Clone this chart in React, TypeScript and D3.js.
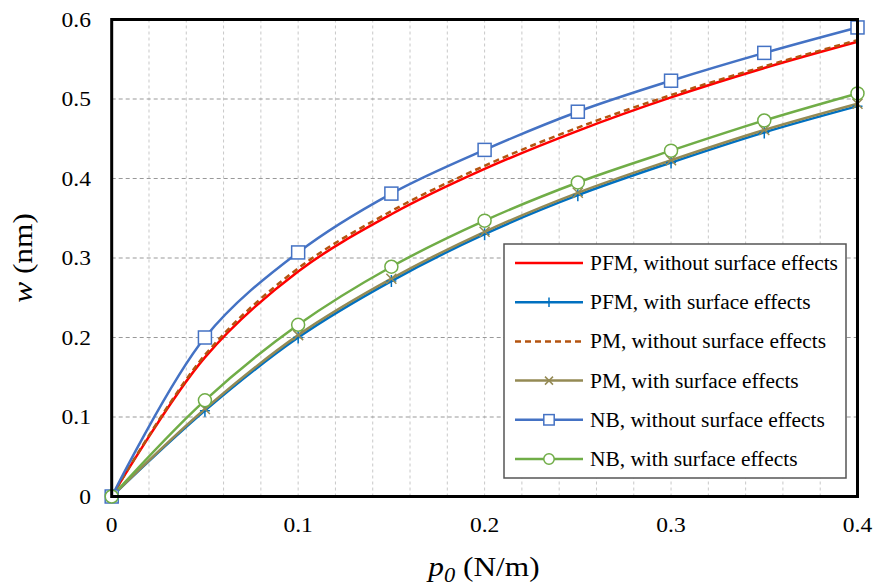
import React from "react";
import * as d3 from "d3";

const xs = [0, 0.05, 0.1, 0.15, 0.2, 0.25, 0.3, 0.35, 0.4];
const pfmWithout = [0, 0.175, 0.283, 0.355, 0.412, 0.46, 0.502, 0.539, 0.572];
const pfmWith = [0, 0.108, 0.2, 0.271, 0.33, 0.379, 0.42, 0.458, 0.491];
const pmWithout = [0, 0.178, 0.287, 0.359, 0.416, 0.464, 0.505, 0.541, 0.574];
const pmWith = [0, 0.11, 0.203, 0.274, 0.333, 0.382, 0.423, 0.461, 0.494];
const nbWithout = [0, 0.2, 0.307, 0.381, 0.436, 0.484, 0.523, 0.558, 0.59];
const nbWith = [0, 0.121, 0.216, 0.289, 0.347, 0.395, 0.435, 0.473, 0.507];

const xTicks = [0, 0.1, 0.2, 0.3, 0.4];
const yTicks = [0, 0.1, 0.2, 0.3, 0.4, 0.5, 0.6];
const xGrid = d3.range(0, 21).map((i) => i * 0.02);

type Marker = "none" | "plus" | "cross" | "square" | "circle";
const series: { name: string; values: number[]; color: string; marker: Marker; dash?: string }[] = [
  { name: "PFM, without surface effects", values: pfmWithout, color: "#FF0000", marker: "none" },
  { name: "PFM, with surface effects", values: pfmWith, color: "#0070C0", marker: "plus" },
  { name: "PM, without surface effects", values: pmWithout, color: "#B4540F", marker: "none", dash: "6,4" },
  { name: "PM, with surface effects", values: pmWith, color: "#948A54", marker: "cross" },
  { name: "NB, without surface effects", values: nbWithout, color: "#4472C4", marker: "square" },
  { name: "NB, with surface effects", values: nbWith, color: "#70AD47", marker: "circle" },
];

const L = 111.7, R = 857.5, T = 19.5, B = 496.5;
const x = d3.scaleLinear().domain([0, 0.4]).range([L, R]);
const y = d3.scaleLinear().domain([0, 0.6]).range([B, T]);
const SX = 1.12;

function MarkerShape({ type, cx, cy, color, s = 1 }: { type: Marker; cx: number; cy: number; color: string; s?: number }) {
  if (type === "plus")
    return (
      <path d={`M${cx - 5 * s},${cy}H${cx + 5 * s}M${cx},${cy - 6 * s}V${cy + 6 * s}`} stroke={color} strokeWidth={1.5} fill="none" />
    );
  if (type === "cross")
    return (
      <path
        d={`M${cx - 5 * s},${cy - 5 * s}L${cx + 5 * s},${cy + 5 * s}M${cx - 5 * s},${cy + 5 * s}L${cx + 5 * s},${cy - 5 * s}`}
        stroke={color}
        strokeWidth={1.5}
        fill="none"
      />
    );
  if (type === "square")
    return <rect x={cx - 6.5 * s} y={cy - 6.5 * s} width={13 * s} height={13 * s} fill="#fff" stroke={color} strokeWidth={1.5} />;
  if (type === "circle") return <circle cx={cx} cy={cy} r={6.5 * s} fill="#fff" stroke={color} strokeWidth={1.5} />;
  return null;
}

export default function App() {
  const line = d3
    .line<number>()
    .x((_, i) => x(xs[i]))
    .y((d) => y(d))
    .curve(d3.curveCatmullRom.alpha(0.5));

  const legX = 504, legY = 244, legW = 342, legH = 234;
  const font = "Liberation Serif";

  return (
    <svg width={874} height={588} style={{ position: "absolute", left: 0, top: 0, background: "#fff", fontFamily: font }}>
      <rect width={874} height={588} fill="#fff" />
      {xGrid.map((g, i) => (
        <line key={"vg" + i} x1={x(g)} x2={x(g)} y1={T} y2={B} stroke="#c8c8c8" strokeWidth={1} strokeDasharray="3,3" />
      ))}
      {yTicks.map((t) => (
        <line key={"hg" + t} x1={L} x2={R} y1={y(t)} y2={y(t)} stroke="#999" strokeWidth={1} strokeDasharray="4,3" />
      ))}
      {series.map((s) => (
        <path key={s.name} d={line(s.values) || ""} fill="none" stroke={s.color} strokeWidth={2.5} strokeDasharray={s.dash} />
      ))}
      {series.map((s) =>
        s.values.map((v, i) => (
          <MarkerShape key={s.name + i} type={s.marker} cx={x(xs[i])} cy={y(v)} color={s.color} />
        ))
      )}
      <rect x={L} y={T} width={R - L} height={B - T} fill="none" stroke="#000" strokeWidth={3} />
      {yTicks.map((t) => (
        <text
          key={"yt" + t}
          transform={`translate(91,${y(t) + 7}) scale(${SX},1)`}
          textAnchor="end"
          fontSize={21}
          fill="#000"
          style={{ fontFamily: font }}
        >
          {t === 0 ? "0" : t.toFixed(1)}
        </text>
      ))}
      {xTicks.map((t) => (
        <text
          key={"xt" + t}
          transform={`translate(${x(t)},532) scale(${SX},1)`}
          textAnchor="middle"
          fontSize={21}
          fill="#000"
          style={{ fontFamily: font }}
        >
          {t === 0 ? "0" : t.toFixed(1)}
        </text>
      ))}
      <text
        transform={`translate(32,258) rotate(-90) scale(${SX},1)`}
        textAnchor="middle"
        fontSize={28}
        fill="#000"
        style={{ fontFamily: font }}
      >
        <tspan fontStyle="italic">w</tspan>
        <tspan> (nm)</tspan>
      </text>
      <text
        transform={`translate(484,576) scale(${SX},1)`}
        textAnchor="middle"
        fontSize={28}
        fill="#000"
        style={{ fontFamily: font }}
      >
        <tspan fontStyle="italic">p</tspan>
        <tspan fontStyle="italic" fontSize={20} dy={6}>0</tspan>
        <tspan dy={-6}> (N/m)</tspan>
      </text>
      <rect x={legX} y={legY} width={legW} height={legH} fill="#fff" stroke="#555" strokeWidth={1.5} />
      {series.map((s, i) => {
        const cy = 263 + i * 39.2;
        return (
          <g key={"lg" + s.name}>
            <line x1={515} x2={583} y1={cy} y2={cy} stroke={s.color} strokeWidth={2.5} strokeDasharray={s.dash} />
            <MarkerShape type={s.marker} cx={549} cy={cy} color={s.color} s={0.8} />
            <text
              transform={`translate(590,${cy + 7}) scale(1.07,1)`}
              fontSize={20}
              fill="#000"
              style={{ fontFamily: font }}
            >
              {s.name}
            </text>
          </g>
        );
      })}
    </svg>
  );
}
